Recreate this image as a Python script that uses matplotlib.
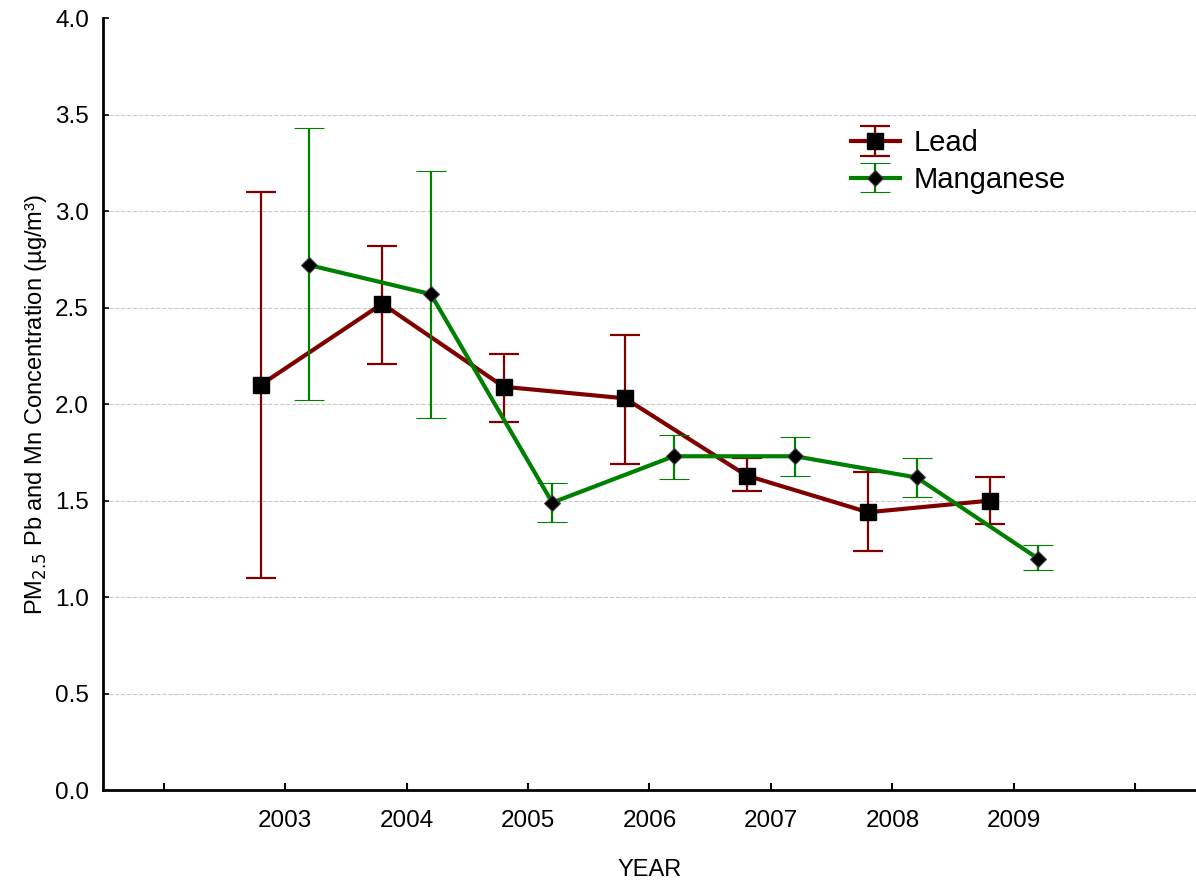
import numpy as np
import matplotlib
matplotlib.use("Agg")
import matplotlib.pyplot as plt

plt.rcParams['font.family'] = ['Liberation Sans', 'DejaVu Sans']

years = ['2003', '2004', '2005', '2006', '2007', '2008', '2009']

lead_mean = [2.10, 2.52, 2.09, 2.03, 1.63, 1.44, 1.50]
lead_low = [1.10, 2.21, 1.91, 1.69, 1.55, 1.24, 1.38]
lead_high = [3.10, 2.82, 2.26, 2.36, 1.72, 1.65, 1.62]

mn_mean = [2.72, 2.57, 1.49, 1.73, 1.73, 1.62, 1.20]
mn_low = [2.02, 1.93, 1.39, 1.61, 1.63, 1.52, 1.14]
mn_high = [3.43, 3.21, 1.59, 1.84, 1.83, 1.72, 1.27]

lead_color = '#800000'
mn_color = '#008000'

x = np.arange(1, len(years) + 1)
lead_mean = np.array(lead_mean)
mn_mean = np.array(mn_mean)
lead_err = [lead_mean - np.array(lead_low), np.array(lead_high) - lead_mean]
mn_err = [mn_mean - np.array(mn_low), np.array(mn_high) - mn_mean]

fig = plt.figure(figsize=(11.96, 8.8), dpi=100)
ax = fig.add_axes([0.086, 0.102, 0.914, 0.8775])

ax.grid(True, axis='y', linestyle='--', color='#c8c8c8', linewidth=0.8, zorder=0)

lead = ax.errorbar(x - 0.2, lead_mean, yerr=lead_err, color=lead_color, ecolor=lead_color,
                   elinewidth=1.6, capsize=10.5, capthick=1.6, linewidth=3,
                   marker='s', markersize=11, markerfacecolor='black', markeredgecolor='black',
                   label='Lead', zorder=3)
mn = ax.errorbar(x + 0.2, mn_mean, yerr=mn_err, color=mn_color, ecolor=mn_color,
                 elinewidth=1.6, capsize=10.5, capthick=1.6, linewidth=3,
                 marker='D', markersize=8, markerfacecolor='black', markeredgecolor='#444444',
                 markeredgewidth=0.8, label='Manganese', zorder=4)

ax.set_xlim(-0.5, 8.5)
ax.set_ylim(0, 4.0)
ax.set_xticks(np.arange(0, 9))
ax.set_xticklabels([''] + years + [''])
ax.set_yticks(np.arange(0, 4.01, 0.5))
ax.set_yticklabels([f'{v:.1f}' for v in np.arange(0, 4.01, 0.5)])
ax.tick_params(axis='x', direction='in', length=5, width=1.5, labelsize=17.5, pad=14)
ax.tick_params(axis='y', direction='in', length=4, width=1.2, labelsize=17.5, pad=10)
ax.get_ygridlines()[-1].set_visible(False)

for side in ['top', 'right']:
    ax.spines[side].set_visible(False)
for side in ['left', 'bottom']:
    ax.spines[side].set_linewidth(2)

ax.set_ylabel('PM$_{2.5}$ Pb and Mn Concentration (µg/m³)', fontsize=17)
ax.set_xlabel('YEAR', fontsize=17, labelpad=20)

ax.legend(handles=[lead, mn], loc='upper left', bbox_to_anchor=(0.66, 0.89), frameon=False,
          fontsize=21, handlelength=1.7, handletextpad=0.45, labelspacing=0.3)

fig.savefig('out.png', dpi=100)
